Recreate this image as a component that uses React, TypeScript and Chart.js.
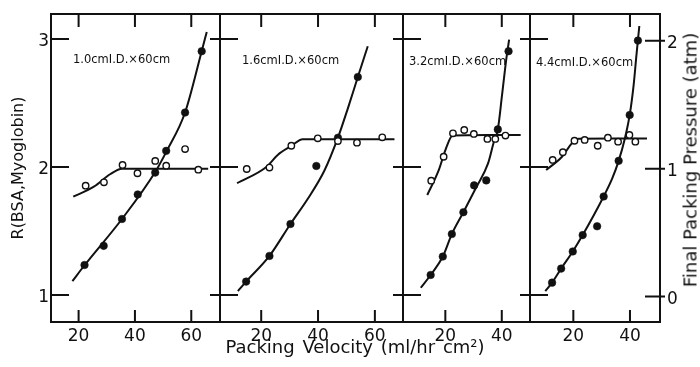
import React, { useEffect, useRef } from "react";
import { Chart, registerables } from "chart.js";

Chart.register(...registerables);

// ---------- tick labels & text ----------
const R_TICKS = [1, 2, 3];
const PRESSURE_TICKS = [0, 1, 2];
const X_TICKS_WIDE = [20, 40, 60];
const X_TICKS_NARROW = [20, 40];
const PANEL_LABELS = ["1.0cmI.D.×60cm", "1.6cmI.D.×60cm", "3.2cmI.D.×60cm", "4.4cmI.D.×60cm"];
const Y_LEFT_TITLE = "R(BSA,Myoglobin)";
const Y_RIGHT_TITLE = "Final Packing Pressure (atm)";
const X_TITLE = "Packing Velocity (ml/hr cm²)";

// ---------- panel 1 : 1.0 cm I.D. ----------
const P1_OPEN_V = [22.5, 29.0, 35.6, 40.9, 47.2, 51.1, 57.8, 62.5];
const P1_OPEN_R = [1.854, 1.88, 2.016, 1.951, 2.047, 2.01, 2.14, 1.979];
const P1_OPEN_FIT_V = [18.1, 25.4, 31.3, 35.4, 50.0, 66.0];
const P1_OPEN_FIT_R = [1.768, 1.846, 1.945, 1.986, 1.986, 1.986];
const P1_FILLED_V = [22.1, 28.9, 35.4, 41.0, 47.2, 51.1, 57.8, 63.7];
const P1_FILLED_P = [0.246, 0.396, 0.606, 0.798, 0.969, 1.139, 1.439, 1.919];
const P1_FILLED_FIT_V = [17.8, 22.1, 35.4, 47.2, 51.3, 57.8, 63.7, 65.5];
const P1_FILLED_FIT_P = [0.12, 0.244, 0.606, 0.974, 1.139, 1.439, 1.919, 2.07];

// ---------- panel 2 : 1.6 cm I.D. ----------
const P2_OPEN_V = [14.9, 22.9, 30.6, 39.9, 47.0, 53.7, 62.6];
const P2_OPEN_R = [1.984, 1.995, 2.166, 2.224, 2.203, 2.19, 2.232];
const P2_OPEN_FIT_V = [11.5, 21.8, 25.8, 30.6, 34.6, 50.0, 66.9];
const P2_OPEN_FIT_R = [1.873, 2.0, 2.094, 2.164, 2.217, 2.217, 2.217];
const P2_FILLED_V = [14.7, 22.9, 30.3, 39.4, 47.0, 54.0];
const P2_FILLED_P = [0.116, 0.317, 0.567, 1.021, 1.242, 1.717];
const P2_FILLED_FIT_V = [11.8, 14.7, 22.9, 30.3, 36.4, 42.3, 47.0, 50.5, 54.0, 57.5];
const P2_FILLED_FIT_P = [0.042, 0.116, 0.317, 0.567, 0.764, 0.987, 1.242, 1.472, 1.717, 1.958];

// ---------- panel 3 : 3.2 cm I.D. ----------
const P3_OPEN_V = [15.0, 19.4, 22.7, 26.7, 30.1, 34.9, 37.7, 41.3];
const P3_OPEN_R = [1.893, 2.08, 2.263, 2.289, 2.258, 2.219, 2.219, 2.245];
const P3_OPEN_FIT_V = [13.6, 17.7, 20.3, 22.6, 35.0, 46.7];
const P3_OPEN_FIT_R = [1.781, 1.977, 2.15, 2.245, 2.25, 2.25];
const P3_FILLED_V = [14.8, 19.1, 22.3, 26.4, 30.2, 34.5, 38.6, 42.4];
const P3_FILLED_P = [0.168, 0.312, 0.488, 0.659, 0.869, 0.908, 1.307, 1.919];
const P3_FILLED_FIT_V = [11.3, 14.8, 19.1, 22.3, 26.4, 31.0, 35.1, 37.2, 38.6, 40.1, 41.5, 42.6];
const P3_FILLED_FIT_P = [0.068, 0.168, 0.312, 0.488, 0.659, 0.856, 1.039, 1.21, 1.307, 1.577, 1.84, 2.01];

// ---------- panel 4 : 4.4 cm I.D. ----------
const P4_OPEN_V = [12.7, 16.3, 20.4, 24.0, 28.6, 32.2, 35.8, 39.8, 41.9];
const P4_OPEN_R = [2.055, 2.115, 2.205, 2.211, 2.166, 2.229, 2.198, 2.25, 2.198];
const P4_OPEN_FIT_V = [10.4, 16.0, 19.5, 21.9, 34.0, 46.0];
const P4_OPEN_FIT_R = [1.977, 2.08, 2.185, 2.221, 2.222, 2.222];
const P4_FILLED_V = [12.5, 15.7, 19.8, 23.3, 28.4, 30.7, 36.0, 39.9, 42.8];
const P4_FILLED_P = [0.108, 0.218, 0.352, 0.48, 0.549, 0.782, 1.061, 1.42, 2.002];
const P4_FILLED_FIT_V = [10.1, 12.5, 15.7, 19.8, 23.3, 30.7, 33.7, 36.0, 38.2, 39.9, 41.3, 42.3, 43.3];
const P4_FILLED_FIT_P = [0.042, 0.108, 0.218, 0.352, 0.48, 0.782, 0.921, 1.061, 1.236, 1.42, 1.656, 1.892, 2.116];

// ---------- layout / style ----------
const INK = "#111";
const FONT = "'DejaVu Sans', 'Liberation Sans', sans-serif";
const W = 700;
const H = 367;
const TOP = 14;
const BOTTOM = 322;
const SIDE = 20;
const R_MIN = 0.789;
const R_MAX = 3.195;
const P_MIN = -0.2;
const P_MAX = 2.21;

type Spec = {
  left: number;
  right: number;
  xMin: number;
  xMax: number;
  xTicks: number[];
  openV: number[];
  openR: number[];
  openFitV: number[];
  openFitR: number[];
  filledV: number[];
  filledP: number[];
  filledFitV: number[];
  filledFitP: number[];
  label: string;
  labelX: number;
  labelY: number;
  first: boolean;
  last: boolean;
};

const PANELS: Spec[] = [
  {
    left: 51, right: 220, xMin: 10.2, xMax: 70.2, xTicks: X_TICKS_WIDE,
    openV: P1_OPEN_V, openR: P1_OPEN_R, openFitV: P1_OPEN_FIT_V, openFitR: P1_OPEN_FIT_R,
    filledV: P1_FILLED_V, filledP: P1_FILLED_P, filledFitV: P1_FILLED_FIT_V, filledFitP: P1_FILLED_FIT_P,
    label: PANEL_LABELS[0], labelX: 73, labelY: 52, first: true, last: false,
  },
  {
    left: 220, right: 403, xMin: 5.5, xMax: 69.9, xTicks: X_TICKS_WIDE,
    openV: P2_OPEN_V, openR: P2_OPEN_R, openFitV: P2_OPEN_FIT_V, openFitR: P2_OPEN_FIT_R,
    filledV: P2_FILLED_V, filledP: P2_FILLED_P, filledFitV: P2_FILLED_FIT_V, filledFitP: P2_FILLED_FIT_P,
    label: PANEL_LABELS[1], labelX: 242, labelY: 53, first: false, last: false,
  },
  {
    left: 403, right: 530, xMin: 5.0, xMax: 50.0, xTicks: X_TICKS_NARROW,
    openV: P3_OPEN_V, openR: P3_OPEN_R, openFitV: P3_OPEN_FIT_V, openFitR: P3_OPEN_FIT_R,
    filledV: P3_FILLED_V, filledP: P3_FILLED_P, filledFitV: P3_FILLED_FIT_V, filledFitP: P3_FILLED_FIT_P,
    label: PANEL_LABELS[2], labelX: 409, labelY: 54, first: false, last: false,
  },
  {
    left: 530, right: 660, xMin: 4.7, xMax: 50.6, xTicks: X_TICKS_NARROW,
    openV: P4_OPEN_V, openR: P4_OPEN_R, openFitV: P4_OPEN_FIT_V, openFitR: P4_OPEN_FIT_R,
    filledV: P4_FILLED_V, filledP: P4_FILLED_P, filledFitV: P4_FILLED_FIT_V, filledFitP: P4_FILLED_FIT_P,
    label: PANEL_LABELS[3], labelX: 536, labelY: 55, first: false, last: true,
  },
];

const zip = (xs: number[], ys: number[]) => xs.map((x, i) => ({ x, y: ys[i] }));

function Panel({ spec }: { spec: Spec }) {
  const ref = useRef<HTMLCanvasElement>(null);
  const padL = spec.first ? spec.left : SIDE;
  const padR = spec.last ? W - spec.right : SIDE;
  const cw = spec.right - spec.left + padL + padR;

  useEffect(() => {
    const frame = {
      id: "panelFrame",
      afterDatasetsDraw(chart: any) {
        const { ctx, chartArea: a, scales } = chart;
        ctx.save();
        ctx.strokeStyle = INK;
        ctx.lineWidth = 2;
        ctx.strokeRect(a.left, a.top, a.right - a.left, a.bottom - a.top);
        ctx.beginPath();
        for (const v of spec.xTicks) {
          const x = scales.x.getPixelForValue(v);
          ctx.moveTo(x, a.bottom);
          ctx.lineTo(x, a.bottom - 12);
          ctx.moveTo(x, a.top);
          ctx.lineTo(x, a.top + 13);
        }
        for (const v of R_TICKS) {
          const y = scales.y.getPixelForValue(v);
          ctx.moveTo(a.left - (spec.first ? 0 : 10), y);
          ctx.lineTo(a.left + 18, y);
        }
        if (spec.last) {
          for (const v of PRESSURE_TICKS) {
            const y = scales.y1.getPixelForValue(v);
            ctx.moveTo(a.right - 15, y);
            ctx.lineTo(a.right + 5, y);
          }
        }
        ctx.stroke();
        ctx.restore();
      },
    };

    const tickFont = { family: FONT, size: 17 };
    const chart = new Chart(ref.current as HTMLCanvasElement, {
      type: "line",
      data: {
        datasets: [
          {
            data: zip(spec.openV, spec.openR),
            yAxisID: "y",
            showLine: false,
            pointRadius: 3.2,
            pointBackgroundColor: "#fff",
            pointBorderColor: INK,
            pointBorderWidth: 1.4,
            order: 0,
          },
          {
            data: zip(spec.filledV, spec.filledP),
            yAxisID: "y1",
            showLine: false,
            pointRadius: 3.8,
            pointBackgroundColor: INK,
            pointBorderColor: INK,
            pointBorderWidth: 0.5,
            order: 0,
          },
          {
            data: zip(spec.openFitV, spec.openFitR),
            yAxisID: "y",
            borderColor: INK,
            borderWidth: 2,
            pointRadius: 0,
            cubicInterpolationMode: "monotone",
            fill: false,
            order: 1,
          },
          {
            data: zip(spec.filledFitV, spec.filledFitP),
            yAxisID: "y1",
            borderColor: INK,
            borderWidth: 2,
            pointRadius: 0,
            cubicInterpolationMode: "monotone",
            fill: false,
            order: 1,
          },
        ],
      },
      options: {
        responsive: false,
        maintainAspectRatio: false,
        animation: false,
        events: [],
        layout: {
          autoPadding: false,
          padding: {
            left: spec.first ? 9 : SIDE,
            right: spec.last ? 0 : SIDE,
            top: TOP,
            bottom: 0,
          },
        },
        plugins: { legend: { display: false }, tooltip: { enabled: false }, title: { display: false } },
        scales: {
          x: {
            type: "linear",
            position: "bottom",
            min: spec.xMin,
            max: spec.xMax,
            afterBuildTicks: (s: any) => {
              s.ticks = spec.xTicks.map((v) => ({ value: v }));
            },
            afterFit: (s: any) => {
              s.height = H - BOTTOM;
              s.paddingLeft = 0;
              s.paddingRight = 0;
            },
            grid: { display: false, drawTicks: false },
            border: { display: false },
            ticks: { font: tickFont, color: INK, padding: 4, maxRotation: 0, autoSkip: false },
          },
          y: {
            type: "linear",
            position: "left",
            display: spec.first,
            min: R_MIN,
            max: R_MAX,
            afterBuildTicks: (s: any) => {
              s.ticks = R_TICKS.map((v) => ({ value: v }));
            },
            afterFit: (s: any) => {
              s.width = spec.first ? spec.left - 9 : 0;
              s.paddingTop = 0;
              s.paddingBottom = 0;
            },
            grid: { display: false, drawTicks: false },
            border: { display: false },
            ticks: { font: tickFont, color: INK, padding: 2, labelOffset: 3 },
            title: {
              display: spec.first,
              text: Y_LEFT_TITLE,
              font: { family: FONT, size: 16 },
              color: INK,
              padding: 0,
            },
          },
          y1: {
            type: "linear",
            position: "right",
            display: spec.last,
            min: P_MIN,
            max: P_MAX,
            afterBuildTicks: (s: any) => {
              s.ticks = PRESSURE_TICKS.map((v) => ({ value: v }));
            },
            afterFit: (s: any) => {
              s.width = spec.last ? W - spec.right : 0;
              s.paddingTop = 0;
              s.paddingBottom = 0;
            },
            grid: { display: false, drawTicks: false },
            border: { display: false },
            ticks: { font: tickFont, color: INK, padding: 7, labelOffset: 3 },
          },
        },
      },
      plugins: [frame],
    } as any);
    return () => chart.destroy();
  }, []);

  return (
    <>
      <canvas
        ref={ref}
        width={cw}
        height={H}
        style={{ position: "absolute", left: spec.left - padL, top: 0, width: cw, height: H }}
      />
      <div
        style={{
          position: "absolute",
          left: spec.labelX,
          top: spec.labelY,
          font: `11.5px ${FONT}`,
          color: INK,
          whiteSpace: "nowrap",
          lineHeight: "14px",
        }}
      >
        {spec.label}
      </div>
    </>
  );
}

export default function App() {
  return (
    <div
      style={{
        position: "fixed",
        left: 0,
        top: 0,
        width: W,
        height: H,
        background: "#fff",
        overflow: "hidden",
      }}
    >
      {PANELS.map((p, i) => (
        <Panel key={i} spec={p} />
      ))}
      <div
        style={{
          position: "absolute",
          left: 355,
          top: 336,
          transform: "translateX(-50%)",
          font: `18px ${FONT}`,
          color: INK,
          whiteSpace: "nowrap",
          lineHeight: "21px",
          wordSpacing: "2px",
        }}
      >
        {X_TITLE}
      </div>
      <div
        style={{
          position: "absolute",
          left: 690,
          top: 160,
          transform: "translate(-50%, -50%) rotate(-90deg)",
          font: `18px ${FONT}`,
          color: INK,
          whiteSpace: "nowrap",
          lineHeight: "21px",
        }}
      >
        {Y_RIGHT_TITLE}
      </div>
    </div>
  );
}
